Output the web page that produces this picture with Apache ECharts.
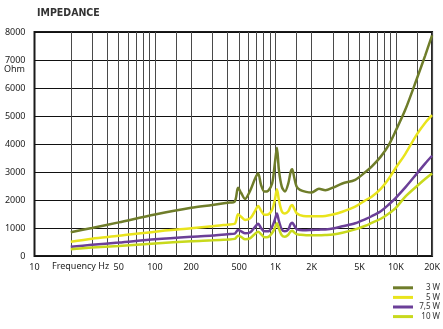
<!DOCTYPE html>
<html><head><meta charset="utf-8">
<script src="https://cdn.jsdelivr.net/npm/echarts@6/dist/echarts.min.js"></script>
<style>html,body{margin:0;padding:0;background:#fff}#c{width:443px;height:329px}</style>
</head><body><div id="c"></div>
<script>
const freqs = [20,30,50,100,200,300,400,460,490,520,560,620,680,720,760,810,870,940,990,1030,1070,1130,1200,1280,1340,1380,1430,1500,1600,1800,2000,2300,2600,3000,3600,4600,5600,6300,7500,8700,10000,12000,15000,17500,20000];
const w3  = [850,1000,1200,1480,1720,1820,1900,1950,2440,2250,2040,2350,2780,2950,2540,2300,2330,2590,3310,3870,3070,2480,2300,2590,3010,3100,2830,2480,2360,2290,2270,2400,2350,2440,2590,2720,3000,3190,3550,3950,4480,5230,6350,7150,7880];
const w5  = [510,620,720,870,990,1060,1120,1150,1490,1400,1290,1350,1620,1790,1620,1470,1480,1650,2000,2380,2000,1600,1520,1600,1780,1820,1700,1530,1460,1420,1420,1420,1430,1480,1580,1760,1990,2120,2400,2750,3150,3650,4350,4750,5030];
const w75 = [330,400,480,600,690,730,780,800,930,880,810,850,1050,1150,1000,880,880,1050,1300,1520,1250,950,880,950,1150,1190,1100,960,930,920,930,940,950,980,1060,1170,1320,1420,1600,1830,2080,2450,2950,3300,3580];
const w10 = [240,300,360,450,530,560,590,610,720,680,600,640,800,870,780,670,680,820,1000,1170,980,740,690,760,880,905,850,780,760,740,740,740,750,770,830,950,1080,1180,1330,1510,1720,2120,2500,2750,2950];
const seriesNames = ['3 W','5 W','7,5 W','10 W'];
const seriesColors = ['#6f7d2a','#e9e41c','#6b3f98','#c8d91c'];
const gridFreqs = [20,30,40,50,60,70,80,90,100,150,200,300,400,500,600,700,800,900,1000,1500,2000,3000,4000,5000,6000,7000,8000,9000,10000,15000,20000];
const labelFreqs = [10,50,100,200,500,1000,2000,5000,10000,20000];
const yMin = 0, yMax = 8000, yStep = 1000;

const values = [w3,w5,w75,w10];
const fmtF = v => v >= 1000 ? (v/1000) + 'K' : String(v);
const chart = echarts.init(document.getElementById('c'), null, {renderer:'canvas'});
const font = 'Noto Sans';
chart.setOption({
  animation:false,
  backgroundColor:'#fff',
  title:{text:'IMPEDANCE', left:32, top:3, textStyle:{fontFamily:'Liberation Sans Narrow, DejaVu Sans Condensed', fontWeight:'bold', fontSize:10.5, color:'#333'}},
  grid:{left:34.5, right:1.5, top:32, bottom:73, show:true, borderColor:'#1a1a1a', borderWidth:2},
  legend:{
    orient:'vertical', left:393, top:283, padding:0, itemWidth:20, itemHeight:3, itemGap:0, icon:'rect',
    height:50,
    data:seriesNames,
    formatter: n => '{a|' + n + '}',
    textStyle:{fontFamily:font, fontSize:8, color:'#333', lineHeight:9.6,
      rich:{a:{width:22, align:'right', fontFamily:font, fontSize:8, lineHeight:9.6, color:'#333'}}}
  },
  xAxis:{
    type:'log', logBase:10, min:10, max:20000,
    axisLine:{show:false},
    axisTick:{show:false, customValues:gridFreqs},
    axisLabel:{customValues:labelFreqs, formatter:fmtF, fontFamily:font, fontSize:9, color:'#222', margin:7},
    splitLine:{show:true, lineStyle:{color:'#4a4a4a', width:1}},
    minorSplitLine:{show:false}
  },
  yAxis:{
    type:'value', min:yMin, max:yMax, interval:yStep,
    axisLine:{show:false}, axisTick:{show:false},
    axisLabel:{fontFamily:font, fontSize:9, color:'#222', margin:9, formatter: v => String(v)},
    splitLine:{show:true, lineStyle:{color:'#111', width:1}}
  },
  graphic:[
    {type:'text', left:4, top:65, style:{text:'Ohm', font:'9px "Noto Sans"', fill:'#222'}},
    {type:'text', left:52, top:262, style:{text:'Frequency Hz', font:'9px "Noto Sans"', fill:'#222'}}
  ],
  series: seriesNames.map((n,k)=>({
    name:n, type:'line', showSymbol:false, symbol:'none', smooth:0.3,
    lineStyle:{color:seriesColors[k], width:2.5},
    itemStyle:{color:seriesColors[k]},
    data: freqs.map((f,i)=>[f, values[k][i]])
  }))
});
</script></body></html>
